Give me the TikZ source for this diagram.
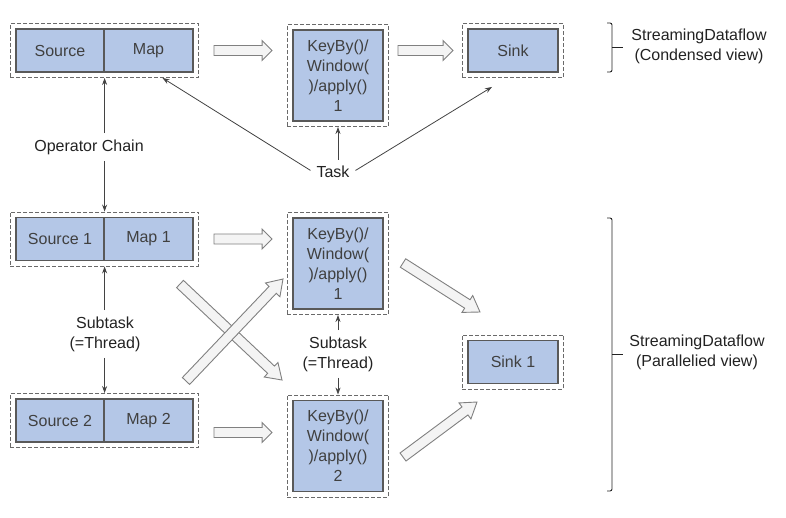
\documentclass[tikz,border=0pt]{standalone}
\usepackage{fontspec}
\setmainfont{Liberation Sans}
\usetikzlibrary{positioning,fit,calc,arrows.meta}

\definecolor{boxblue}{HTML}{B4C7E7}
\definecolor{boxline}{HTML}{595959}
\definecolor{boxtext}{HTML}{404040}
\definecolor{inktext}{HTML}{222222}
\definecolor{fatfill}{HTML}{F4F4F4}
\definecolor{fatline}{HTML}{808080}

% hollow arrow from #2 to #3, head length #1
\newcommand{\fatarrow}[3][10]{%
  \coordinate (fh) at ($(#3)!#1pt!(#2)$);
  \draw[fat] ($(#2)!5pt!90:(#3)$) -- ($(fh)!5pt!90:(#3)$) -- ($(fh)!10pt!90:(#3)$) -- (#3)
    -- ($(fh)!10pt!-90:(#3)$) -- ($(fh)!5pt!-90:(#3)$) -- ($(#2)!5pt!-90:(#3)$) -- cycle;
}

\begin{document}
\begin{tikzpicture}[x=1pt, y=-1pt, >={Stealth[length=7pt,width=5pt]},
font=\fontsize{16pt}{20pt}\selectfont,
box/.style={rectangle, draw=boxline, fill=boxblue, line width=1.2pt, text=boxtext,
            minimum height=43pt, align=center, inner sep=2pt},
group/.style={rectangle, draw=boxline!90!white, dash pattern=on 4pt off 2pt, line width=0.7pt, inner sep=5pt},
note/.style={text=inktext, align=center},
link/.style={->, draw=inktext!85!white, line width=0.8pt, shorten <=3pt},
fat/.style={draw=fatline, fill=fatfill, line width=0.9pt, line join=miter},
brace/.style={draw=inktext, line width=0.9pt, rounded corners=2pt},
]
\useasboundingbox (0,0) rectangle (786,517);

%first row
\node (src) [box, minimum width=88pt] at (60,50.5) {Source};
\node (map) [box, minimum width=89pt] at (148.5,50.5) {Map};
\node (chain) [group, fit=(src)(map)] {};
\node (key) [box, minimum width=90pt, minimum height=91pt] at (338,75.5) {KeyBy()/\\Window(\\)/apply()\\1};
\node (keyg) [group, fit=(key)] {};
\node (sink) [box, minimum width=90pt] at (513,50.5) {Sink};
\node (sinkg) [group, fit=(sink)] {};
%second row
\node (src1) [box, minimum width=88pt] at (60,239) {Source 1};
\node (map1) [box, minimum width=89pt] at (148.5,239) {Map 1};
\node (chain1) [group, fit=(src1)(map1)] {};
\node (key1) [box, minimum width=90pt, minimum height=91pt] at (338,263.5) {KeyBy()/\\Window(\\)/apply()\\1};
\node (keyg1) [group, fit=(key1)] {};
\node (sink1) [box, minimum width=90pt] at (513,362) {Sink 1};
\node (sinkg1) [group, fit=(sink1)] {};
%third row
\node (src2) [box, minimum width=88pt] at (60,420.5) {Source 2};
\node (map2) [box, minimum width=89pt] at (148.5,420.5) {Map 2};
\node (chain2) [group, fit=(src2)(map2)] {};
\node (key2) [box, minimum width=90pt, minimum height=91pt] at (338,446) {KeyBy()/\\Window(\\)/apply()\\2};
\node (keyg2) [group, fit=(key2)] {};

%labels
\node (op) [note] at (89,147) {Operator Chain};
\node (task) [note] at (333,172) {Task};
\node (sub) [note] at (105,334) {Subtask\\(=Thread)};
\node (subk) [note] at (338,354) {Subtask\\(=Thread)};
\node (cview) [note] at (699,46.5) {StreamingDataflow\\(Condensed view)};
\node (pview) [note] at (697,352) {StreamingDataflow\\(Parallelied view)};

\draw [link] (op.north -| src.east) -- (chain.south -| src.east);
\draw [link] (op.south -| src1.east) -- (chain1.north -| src1.east);
\draw [link] (task.north -| key.south) -- (keyg.south);
\draw [link] (task.west) -- ($(chain.south)+(58,0)$);
\draw [link] (task.east) -- ($(sinkg.south)+(-21,9)$);
\draw [link] (sub.north -| src1.east) -- (chain1.south -| src1.east);
\draw [link] (sub.south -| src2.east) -- (chain2.north -| src2.east);
\draw [link] (subk.north -| key1.south) -- (keyg1.south);
\draw [link] (subk.south -| key2.north) -- (keyg2.north);

%hollow arrows
\coordinate (a1) at ($(chain.east)+(15,0)$);
\coordinate (b1) at ($(chain.east -| keyg.west)+(-15,0)$);
\coordinate (a2) at ($(keyg.east |- sink)+(9,0)$);
\coordinate (b2) at ($(sinkg.west)+(-9,0)$);
\coordinate (a3) at ($(chain1.east)+(15,0)$);
\coordinate (b3) at ($(chain1.east -| keyg1.west)+(-15,0)$);
\coordinate (a4) at ($(chain2.east)+(15,12)$);
\coordinate (b4) at ($(a4 -| keyg2.west)+(-15,0)$);
\coordinate (c1) at (180,284);
\coordinate (d1) at (282,380);
\coordinate (c2) at (186,381);
\coordinate (d2) at (283,279);
\coordinate (e1) at (403,263);
\coordinate (f1) at (480,312);
\coordinate (e2) at (403,457);
\coordinate (f2) at (477,402);
\fatarrow{a1}{b1}
\fatarrow{a2}{b2}
\fatarrow{a3}{b3}
\fatarrow{a4}{b4}
\fatarrow[15]{c1}{d1}
\fatarrow[15]{c2}{d2}
\fatarrow[15]{e1}{f1}
\fatarrow[15]{e2}{f2}

%braces
\draw [brace] (607,23) -| (612,72) -- (607,72);
\draw [brace] (612,47.5) -- (623,47.5);
\draw [brace] (607,218) -| (612,491) -- (607,491);
\draw [brace] (612,354) -- (623,354);
\end{tikzpicture}
\end{document}
